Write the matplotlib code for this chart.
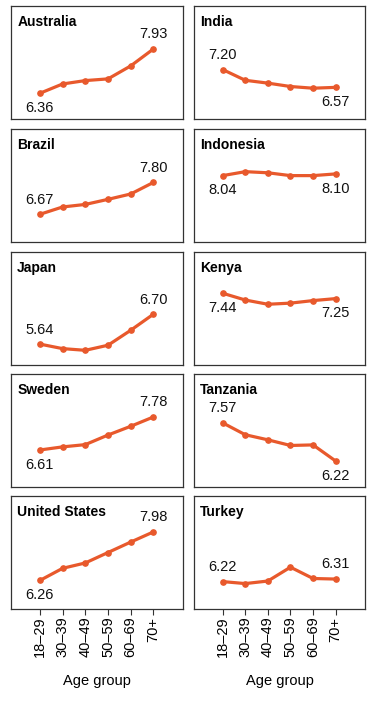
import matplotlib.pyplot as plt

plt.rcParams['font.family'] = ['Liberation Sans', 'DejaVu Sans']

age_groups = ['18–29', '30–39', '40–49', '50–59', '60–69', '70+']

countries = ['Australia', 'India', 'Brazil', 'Indonesia', 'Japan',
             'Kenya', 'Sweden', 'Tanzania', 'United States', 'Turkey']

australia = [6.36, 6.69, 6.81, 6.87, 7.33, 7.93]
india = [7.20, 6.82, 6.72, 6.60, 6.54, 6.57]
brazil = [6.67, 6.93, 7.02, 7.20, 7.39, 7.80]
indonesia = [8.04, 8.18, 8.14, 8.04, 8.04, 8.10]
japan = [5.64, 5.48, 5.42, 5.60, 6.13, 6.70]
kenya = [7.44, 7.20, 7.05, 7.09, 7.18, 7.25]
sweden = [6.61, 6.72, 6.80, 7.14, 7.45, 7.78]
tanzania = [7.57, 7.15, 6.97, 6.77, 6.79, 6.22]
united_states = [6.26, 6.69, 6.88, 7.25, 7.62, 7.98]
turkey = [6.22, 6.15, 6.24, 6.73, 6.33, 6.31]

series = [australia, india, brazil, indonesia, japan,
          kenya, sweden, tanzania, united_states, turkey]

# where the first / last value label goes (+1 above, -1 below)
label_side = [(-1, 1), (1, -1), (1, 1), (-1, -1), (1, 1),
              (-1, -1), (-1, 1), (1, -1), (-1, 1), (1, 1)]

# y-axis top per row, every panel shows a span of 4 units
row_ymax = [9.45, 9.69, 8.90, 9.30, 9.25]
span = 4.0

color = '#e8592c'
W, H = 382, 704
fig = plt.figure(figsize=(W / 100, H / 100), dpi=100)

col_left = [11, 194]
col_width = [172, 171]
row_top = [6, 129, 252, 374, 496]
panel_h = 113

for i, (name, vals) in enumerate(zip(countries, series)):
    r, c = divmod(i, 2)
    ax = fig.add_axes([col_left[c] / W, 1 - (row_top[r] + panel_h) / H,
                       col_width[c] / W, panel_h / H])
    x = list(range(len(vals)))
    ax.plot(x, vals, color=color, lw=2.3, marker='o', ms=3.8,
            solid_capstyle='round')
    ax.set_xlim(-1.27, 6.3)
    ax.set_ylim(row_ymax[r] - span, row_ymax[r])
    for spine in ax.spines.values():
        spine.set_color('#333333')
        spine.set_linewidth(0.9)
    ax.set_yticks([])
    ax.annotate(name, xy=(0, 1), xycoords='axes fraction',
                xytext=(4.5, -6.5), textcoords='offset points',
                ha='left', va='top', fontsize=10, fontweight='bold')
    for idx, side in zip((0, -1), label_side[i]):
        ax.annotate(f'{vals[idx]:.2f}', xy=(x[idx], vals[idx]),
                    xytext=(0, 10.5 * side), textcoords='offset points',
                    ha='center', va='center', fontsize=10.5, color='#111111')
    ax.set_xticks(x)
    if r == 4:
        ax.set_xticklabels(age_groups, rotation=90, fontsize=10.5)
        ax.tick_params(axis='x', length=4, width=0.8, color='#333333', pad=1.5)
        ax.set_xlabel('Age group', fontsize=10.5, labelpad=12)
    else:
        ax.tick_params(axis='x', length=0, labelbottom=False)

fig.savefig('out.png', dpi=100)
